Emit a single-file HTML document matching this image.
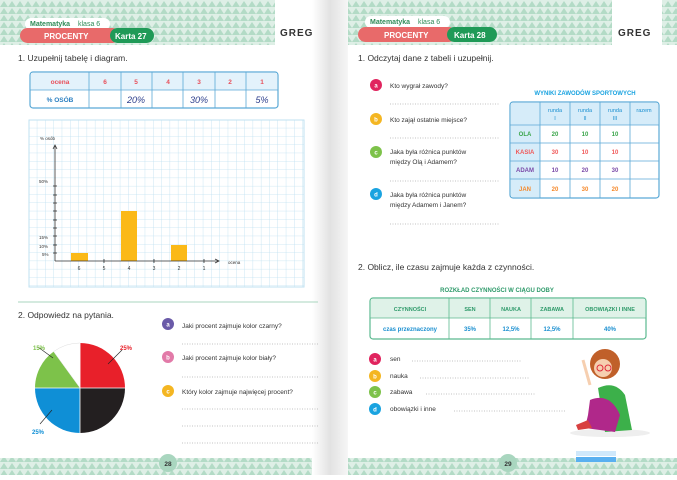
<!DOCTYPE html><html><head><meta charset="utf-8"><style>
body{margin:0;width:677px;height:475px;overflow:hidden;background:#fff;font-family:"Liberation Sans",sans-serif}
svg text{font-family:"Liberation Sans",sans-serif}
</style></head><body>
<svg width="677" height="475" viewBox="0 0 677 475" xmlns="http://www.w3.org/2000/svg">
<defs>
<pattern id="tri" width="8" height="7" patternUnits="userSpaceOnUse"><rect width="8" height="7" fill="#deefe6"/><path d="M0 7 L4 1 L8 7Z" fill="#b3dbc6"/></pattern>
<pattern id="grid" width="8.3" height="8.3" patternUnits="userSpaceOnUse" x="29" y="120"><path d="M8.3 0V8.3H0" fill="none" stroke="#bfe1f1" stroke-width="0.8"/></pattern>
<linearGradient id="gut" x1="0" x2="1"><stop offset="0" stop-color="#fff"/><stop offset="0.5" stop-color="#e2e2e2"/><stop offset="1" stop-color="#f6f6f6"/></linearGradient>
</defs>
<rect x="0" y="0" width="318" height="45" fill="url(#tri)"/>
<rect x="275" y="0" width="43" height="45" fill="#fff"/>
<rect x="345" y="0" width="332" height="45" fill="url(#tri)"/>
<rect x="612" y="0" width="50" height="45" fill="#fff"/>
<rect x="0" y="458" width="677" height="17" fill="url(#tri)"/>
<rect x="312" y="0" width="36" height="475" fill="url(#gut)"/>
<rect x="25" y="18" width="85" height="12" rx="6" fill="#fff"/>
<text x="30" y="26" font-size="7" font-weight="bold" fill="#2e8b57">Matematyka</text><text x="78" y="26" font-size="7" fill="#2e8b57">klasa 6</text>
<rect x="20" y="28" width="100" height="15" rx="7.5" fill="#e86a6a"/>
<text x="44" y="39" font-size="8" font-weight="bold" fill="#fff">PROCENTY</text>
<rect x="110" y="28" width="44" height="15" rx="7.5" fill="#1f9a57"/>
<text x="115" y="39" font-size="8" font-weight="bold" fill="#fff">Karta 27</text>
<text x="280" y="36" font-size="10" font-weight="bold" fill="#333" letter-spacing="1">GREG</text>
<rect x="365" y="16" width="85" height="12" rx="6" fill="#fff"/>
<text x="370" y="24" font-size="7" font-weight="bold" fill="#2e8b57">Matematyka</text><text x="418" y="24" font-size="7" fill="#2e8b57">klasa 6</text>
<rect x="358" y="27" width="98" height="15" rx="7.5" fill="#e86a6a"/>
<text x="384" y="38" font-size="8" font-weight="bold" fill="#fff">PROCENTY</text>
<rect x="447" y="27" width="50" height="15" rx="7.5" fill="#1f9a57"/>
<text x="454" y="38" font-size="8" font-weight="bold" fill="#fff">Karta 28</text>
<text x="618" y="36" font-size="10" font-weight="bold" fill="#333" letter-spacing="1">GREG</text>
<text x="18" y="61" font-size="8.5" fill="#333">1.  Uzupełnij tabelę i diagram.</text>
<rect x="30" y="72" width="248" height="36" rx="3" fill="#fff" stroke="#5aa9d6" stroke-width="1.2"/>
<rect x="31" y="73" width="246" height="17" fill="#e3f2fb"/>
<g stroke="#5aa9d6" stroke-width="0.8"><line x1="30" y1="90" x2="278" y2="90"/>
<line x1="89" y1="72" x2="89" y2="108"/><line x1="121" y1="72" x2="121" y2="108"/><line x1="152" y1="72" x2="152" y2="108"/><line x1="183" y1="72" x2="183" y2="108"/><line x1="215" y1="72" x2="215" y2="108"/><line x1="246" y1="72" x2="246" y2="108"/></g>
<g font-size="6.5" font-weight="bold" fill="#e8505b" text-anchor="middle"><text x="60" y="84">ocena</text><text x="105" y="84">6</text><text x="136" y="84">5</text><text x="168" y="84">4</text><text x="199" y="84">3</text><text x="230" y="84">2</text><text x="262" y="84">1</text></g>
<text x="60" y="102" font-size="6.5" font-weight="bold" fill="#2a7fc1" text-anchor="middle">% OSÓB</text>
<g font-size="9" font-style="italic" fill="#2c3e8c" text-anchor="middle"><text x="136" y="103">20%</text><text x="199" y="103">30%</text><text x="262" y="103">5%</text></g>
<rect x="29" y="120" width="275" height="167" fill="url(#grid)" stroke="#bfe1f1"/>
<g fill="#fbb917"><rect x="71" y="253" width="17" height="8"/><rect x="121" y="211" width="16" height="50"/><rect x="171" y="245" width="16" height="16"/></g>
<g stroke="#333" stroke-width="0.8"><line x1="55" y1="261" x2="55" y2="146"/><line x1="55" y1="261" x2="218" y2="261"/>
<path d="M53 149 L55 145 L57 149" fill="none"/><path d="M215 259 L219 261 L215 263" fill="none"/>
<line x1="53" y1="253" x2="57" y2="253"/><line x1="53" y1="245" x2="57" y2="245"/><line x1="53" y1="236" x2="57" y2="236"/><line x1="53" y1="228" x2="57" y2="228"/><line x1="53" y1="220" x2="57" y2="220"/><line x1="53" y1="211" x2="57" y2="211"/><line x1="53" y1="203" x2="57" y2="203"/><line x1="53" y1="195" x2="57" y2="195"/><line x1="53" y1="186" x2="57" y2="186"/>
<line x1="104" y1="259" x2="104" y2="263"/><line x1="154" y1="259" x2="154" y2="263"/><line x1="204" y1="259" x2="204" y2="263"/></g>
<g font-size="4.5" fill="#333"><text x="40" y="140">% osób</text><text x="39" y="183">50%</text><text x="39" y="239">15%</text><text x="39" y="248">10%</text><text x="42" y="256">5%</text><text x="228" y="264">ocena</text></g>
<g font-size="5" fill="#333" text-anchor="middle"><text x="79" y="270">6</text><text x="104" y="270">5</text><text x="129" y="270">4</text><text x="154" y="270">3</text><text x="179" y="270">2</text><text x="204" y="270">1</text></g>
<line x1="18" y1="302" x2="318" y2="302" stroke="#a9d6bf" stroke-width="1"/>
<text x="18" y="318" font-size="8.5" fill="#333">2.  Odpowiedz na pytania.</text>
<g transform="translate(80,388)">
<path d="M0 0 L0 -45 A45 45 0 0 1 45 0Z" fill="#e8202a"/>
<path d="M0 0 L45 0 A45 45 0 0 1 0 45Z" fill="#231f20"/>
<path d="M0 0 L0 45 A45 45 0 0 1 -45 0Z" fill="#0f8fd6"/>
<path d="M0 0 L-45 0 A45 45 0 0 1 -26.4 -36.4Z" fill="#7dc24a"/>
<path d="M0 0 L-26.4 -36.4 A45 45 0 0 1 0 -45Z" fill="#fff" stroke="#ddd" stroke-width="0.5"/>
<g stroke="#fff" stroke-width="0.8"><line x1="0" y1="-45" x2="0" y2="45"/><line x1="-45" y1="0" x2="45" y2="0"/></g>
<g stroke="#222" stroke-width="0.6"><line x1="-27" y1="-30" x2="-42" y2="-41"/><line x1="28" y1="-24" x2="42" y2="-38"/><line x1="-28" y1="22" x2="-40" y2="36"/></g>
</g>
<text x="33" y="350" font-size="6" font-weight="bold" fill="#7dc24a">15%</text>
<text x="120" y="350" font-size="6" font-weight="bold" fill="#e8202a">25%</text>
<text x="32" y="434" font-size="6" font-weight="bold" fill="#0f8fd6">25%</text>
<g font-size="6.5" fill="#333">
<circle cx="168" cy="324" r="6" fill="#6a5aa8"/><text x="168" y="326.5" font-size="6" fill="#fff" text-anchor="middle" font-weight="bold">a</text><text x="182" y="328">Jaki procent zajmuje kolor czarny?</text>
<circle cx="168" cy="357" r="6" fill="#e27aa8"/><text x="168" y="359.5" font-size="6" fill="#fff" text-anchor="middle" font-weight="bold">b</text><text x="182" y="360">Jaki procent zajmuje kolor biały?</text>
<circle cx="168" cy="391" r="6" fill="#f4b622"/><text x="168" y="393.5" font-size="6" fill="#fff" text-anchor="middle" font-weight="bold">c</text><text x="182" y="394">Który kolor zajmuje najwięcej procent?</text>
</g>
<g stroke="#888" stroke-width="0.6" stroke-dasharray="1,1.5"><line x1="182" y1="344" x2="318" y2="344"/><line x1="182" y1="377" x2="318" y2="377"/><line x1="182" y1="409" x2="318" y2="409"/><line x1="182" y1="426" x2="318" y2="426"/><line x1="182" y1="443" x2="318" y2="443"/></g>
<circle cx="168" cy="463" r="9" fill="#a9d6bf"/><text x="168" y="466" font-size="6.5" font-weight="bold" fill="#333" text-anchor="middle">28</text>
<text x="358" y="61" font-size="8.5" fill="#333">1.  Odczytaj dane z tabeli i uzupełnij.</text>
<g font-size="6.5" fill="#333">
<circle cx="376" cy="85" r="6" fill="#e0245e"/><text x="376" y="87.5" font-size="6" fill="#fff" text-anchor="middle" font-weight="bold">a</text><text x="390" y="88">Kto wygrał zawody?</text>
<circle cx="376" cy="119" r="6" fill="#f4b622"/><text x="376" y="121.5" font-size="6" fill="#fff" text-anchor="middle" font-weight="bold">b</text><text x="390" y="122">Kto zajął ostatnie miejsce?</text>
<circle cx="376" cy="152" r="6" fill="#7dc24a"/><text x="376" y="154.5" font-size="6" fill="#fff" text-anchor="middle" font-weight="bold">c</text><text x="390" y="154">Jaka była różnica punktów</text><text x="390" y="164">między Olą i Adamem?</text>
<circle cx="376" cy="194" r="6" fill="#1aa3e0"/><text x="376" y="196.5" font-size="6" fill="#fff" text-anchor="middle" font-weight="bold">d</text><text x="390" y="197">Jaka była różnica punktów</text><text x="390" y="207">między Adamem i Janem?</text>
</g>
<g stroke="#888" stroke-width="0.6" stroke-dasharray="1,1.5"><line x1="390" y1="104" x2="500" y2="104"/><line x1="390" y1="138" x2="500" y2="138"/><line x1="390" y1="181" x2="500" y2="181"/><line x1="390" y1="224" x2="500" y2="224"/></g>
<text x="585" y="95" font-size="6" font-weight="bold" fill="#1aa3e0" text-anchor="middle">WYNIKI ZAWODÓW SPORTOWYCH</text>
<rect x="510" y="102" width="149" height="96" rx="3" fill="#fff" stroke="#5aa9d6" stroke-width="1.2"/>
<rect x="511" y="103" width="119" height="22" fill="#d6ecf9"/><rect x="630" y="103" width="28" height="22" fill="#d6ecf9"/>
<rect x="511" y="125" width="29" height="72" fill="#d6ecf9"/>
<g stroke="#5aa9d6" stroke-width="0.8"><line x1="510" y1="125" x2="659" y2="125"/><line x1="510" y1="143" x2="659" y2="143"/><line x1="510" y1="161" x2="659" y2="161"/><line x1="510" y1="179" x2="659" y2="179"/>
<line x1="540" y1="102" x2="540" y2="198"/><line x1="570" y1="102" x2="570" y2="198"/><line x1="600" y1="102" x2="600" y2="198"/><line x1="630" y1="102" x2="630" y2="198"/></g>
<g font-size="5.5" fill="#1a8fd0" text-anchor="middle"><text x="555" y="112">runda</text><text x="555" y="120">I</text><text x="585" y="112">runda</text><text x="585" y="120">II</text><text x="615" y="112">runda</text><text x="615" y="120">III</text><text x="644" y="112">razem</text></g>
<g font-size="6" font-weight="bold" text-anchor="middle">
<g fill="#3aa54a"><text x="525" y="136">OLA</text><text x="555" y="136">20</text><text x="585" y="136">10</text><text x="615" y="136">10</text></g>
<g fill="#f05a5a"><text x="525" y="154">KASIA</text><text x="555" y="154">30</text><text x="585" y="154">10</text><text x="615" y="154">10</text></g>
<g fill="#7a4aa8"><text x="525" y="172">ADAM</text><text x="555" y="172">10</text><text x="585" y="172">20</text><text x="615" y="172">30</text></g>
<g fill="#f5882a"><text x="525" y="191">JAN</text><text x="555" y="191">20</text><text x="585" y="191">30</text><text x="615" y="191">20</text></g>
</g>
<text x="358" y="270" font-size="8.5" fill="#333">2.  Oblicz, ile czasu zajmuje każda z czynności.</text>
<text x="497" y="292" font-size="6" font-weight="bold" fill="#2e9a6a" text-anchor="middle">ROZKŁAD CZYNNOŚCI W CIĄGU DOBY</text>
<rect x="370" y="298" width="276" height="41" rx="3" fill="#fff" stroke="#5bb98f" stroke-width="1.2"/>
<rect x="371" y="299" width="274" height="19" fill="#dff2e8"/>
<g stroke="#5bb98f" stroke-width="0.8"><line x1="370" y1="318" x2="646" y2="318"/><line x1="449" y1="298" x2="449" y2="339"/><line x1="490" y1="298" x2="490" y2="339"/><line x1="531" y1="298" x2="531" y2="339"/><line x1="573" y1="298" x2="573" y2="339"/></g>
<g font-size="5.5" font-weight="bold" fill="#2e9a6a" text-anchor="middle"><text x="410" y="311">CZYNNOŚCI</text><text x="470" y="311">SEN</text><text x="511" y="311">NAUKA</text><text x="552" y="311">ZABAWA</text><text x="610" y="311">OBOWIĄZKI I INNE</text></g>
<g font-size="6" font-weight="bold" fill="#1a8fd0" text-anchor="middle"><text x="410" y="331">czas przeznaczony</text><text x="470" y="331">35%</text><text x="511" y="331">12,5%</text><text x="552" y="331">12,5%</text><text x="610" y="331">40%</text></g>
<g font-size="6.5" fill="#333">
<circle cx="375" cy="359" r="6" fill="#e0245e"/><text x="375" y="361.5" font-size="6" fill="#fff" text-anchor="middle" font-weight="bold">a</text><text x="390" y="361">sen</text>
<circle cx="375" cy="376" r="6" fill="#f4b622"/><text x="375" y="378.5" font-size="6" fill="#fff" text-anchor="middle" font-weight="bold">b</text><text x="390" y="378">nauka</text>
<circle cx="375" cy="392" r="6" fill="#7dc24a"/><text x="375" y="394.5" font-size="6" fill="#fff" text-anchor="middle" font-weight="bold">c</text><text x="390" y="394">zabawa</text>
<circle cx="375" cy="409" r="6" fill="#1aa3e0"/><text x="375" y="411.5" font-size="6" fill="#fff" text-anchor="middle" font-weight="bold">d</text><text x="390" y="411">obowiązki i inne</text>
</g>
<g stroke="#888" stroke-width="0.6" stroke-dasharray="1,1.5"><line x1="412" y1="361" x2="522" y2="361"/><line x1="420" y1="378" x2="530" y2="378"/><line x1="426" y1="394" x2="536" y2="394"/><line x1="454" y1="411" x2="565" y2="411"/></g>
<ellipse cx="610" cy="433" rx="40" ry="4" fill="#eee"/>
<path d="M598 388 Q615 380 625 395 L632 430 L605 432Z" fill="#3cb04a"/>
<path d="M590 400 Q610 392 620 415 L615 432 L585 428 L588 415Z" fill="#b0288a"/>
<circle cx="605" cy="364" r="15" fill="#c0602a"/>
<circle cx="603" cy="368" r="9" fill="#f6cfb0"/>
<circle cx="600" cy="368" r="3" fill="none" stroke="#e02a3a"/><circle cx="608" cy="368" r="3" fill="none" stroke="#e02a3a"/>
<path d="M590 385 L583 360" stroke="#f6cfb0" stroke-width="3"/>
<path d="M576 425 L588 420 L592 428 L578 430Z" fill="#d84040"/>
<circle cx="508" cy="463" r="9" fill="#a9d6bf"/><text x="508" y="466" font-size="6.5" font-weight="bold" fill="#333" text-anchor="middle">29</text>
<rect x="576" y="451" width="40" height="5" fill="#cfe8fb"/><rect x="576" y="457" width="40" height="5" fill="#5ab0f0"/>
</svg>
</body></html>
